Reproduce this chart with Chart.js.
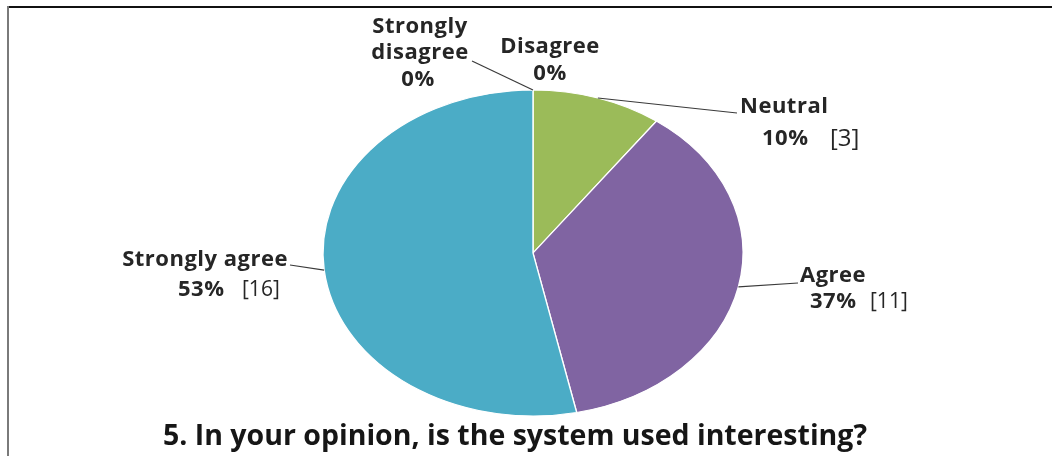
<!DOCTYPE html>
<html>
<head>
<meta charset="utf-8">
<script src="https://cdn.jsdelivr.net/npm/chart.js@4/dist/chart.umd.min.js"></script>
<style>
  html, body { margin: 0; padding: 0; background: #fff; }
  #wrap { position: relative; width: 1052px; height: 456px; overflow: hidden; }
  #frameTop { position: absolute; left: 7px; top: 6px; width: 1045px; height: 2px; background: #111; }
  #frameLeft { position: absolute; left: 7px; top: 6px; width: 2px; height: 450px; background: #7a7a7a; }
  canvas { position: absolute; left: 0; top: 0; }
</style>
</head>
<body>
<div id="wrap">
  <canvas id="myChart" width="1052" height="456"></canvas>
  <div id="frameTop"></div>
  <div id="frameLeft"></div>
</div>
<script>
// Réponses à la question 5
const categories = ["Strongly disagree", "Disagree", "Neutral", "Agree", "Strongly agree"];
const reponses = [0, 0, 3, 11, 16];
const couleurs = ["#4F81BD", "#C0504D", "#9BBB59", "#8064A2", "#4BACC6"];
const titre = "5. In your opinion, is the system used interesting?";

// Ellipse du camembert (centre et rayons)
const centre = { x: 533, y: 253 };
const rayonX = 210;
const rayonY = 163;

// Placement des étiquettes pour chaque part
const etiquettes = [
    { lignes: [["Strongly", 420, 27, "center"], ["disagree", 420, 53, "center"]], pct: [418, 80, "center"], nb: null, trait: [472, 61] },
    { lignes: [["Disagree", 550, 47, "center"]], pct: [550, 74, "center"], nb: null, trait: null },
    { lignes: [["Neutral", 740, 107, "left"]], pct: [762, 139, "left"], nb: [830, 139, 24], trait: [737, 113] },
    { lignes: [["Agree", 800, 276, "left"]], pct: [810, 302, "left"], nb: [870, 302, 21], trait: [798, 283] },
    { lignes: [["Strongly agree", 288, 260, "right"]], pct: [178, 290, "left"], nb: [242, 290, 21], trait: [290, 265] }
];

const total = reponses.reduce((a, b) => a + b, 0);

// Point sur le bord de l'ellipse pour un angle donné (angle Chart.js)
function pointEllipse(angle) {
    return { x: centre.x + Math.cos(angle) * rayonX, y: centre.y + Math.sin(angle) * rayonY };
}

// Plugin qui aplatit le disque en ellipse
const ellipsePlugin = {
    id: 'ellipse',
    beforeDatasetsDraw(chart) {
        const arc = chart.getDatasetMeta(0).data[0];
        const ctx = chart.ctx;
        ctx.save();
        ctx.translate(centre.x, centre.y);
        ctx.scale(rayonX / arc.outerRadius, rayonY / arc.outerRadius);
        ctx.translate(-arc.x, -arc.y);
    },
    afterDatasetsDraw(chart) {
        chart.ctx.restore();
    }
};

// Plugin pour les étiquettes, traits de rappel et titre
const etiquettesPlugin = {
    id: 'etiquettes',
    afterDraw(chart) {
        const ctx = chart.ctx;
        const arcs = chart.getDatasetMeta(0).data;
        ctx.save();
        ctx.textBaseline = 'middle';
        etiquettes.forEach((e, i) => {
            const arc = arcs[i];
            const milieu = (arc.startAngle + arc.endAngle) / 2;
            const p = pointEllipse(milieu);
            if (e.trait) {
                ctx.strokeStyle = '#3a3a3a';
                ctx.lineWidth = 1.2;
                ctx.beginPath();
                ctx.moveTo(p.x, p.y);
                ctx.lineTo(e.trait[0], e.trait[1]);
                ctx.stroke();
            }
            ctx.fillStyle = '#262626';
            ctx.font = 'bold 22px "Open Sans"';
            ctx.letterSpacing = '0.5px';
            e.lignes.forEach(l => {
                ctx.textAlign = l[3];
                ctx.fillText(l[0], l[1], l[2]);
            });
            const pourcent = Math.round(reponses[i] / total * 100) + '%';
            ctx.textAlign = e.pct[2];
            ctx.fillText(pourcent, e.pct[0], e.pct[1]);
            if (e.nb) {
                ctx.font = e.nb[2] + 'px "Open Sans"';
                ctx.letterSpacing = '0px';
                ctx.textAlign = 'left';
                ctx.fillStyle = '#262626';
                ctx.fillText('[' + reponses[i] + ']', e.nb[0], e.nb[1]);
            }
        });
        ctx.letterSpacing = '0px';
        ctx.fillStyle = '#161616';
        ctx.font = 'bold 28.5px "Open Sans"';
        ctx.textAlign = 'center';
        ctx.fillText(titre, 515, 437);
        ctx.restore();
    }
};

const ctx = document.getElementById('myChart').getContext('2d');
const myChart = new Chart(ctx, {
    type: 'pie',
    data: {
        labels: categories,
        datasets: [{
            data: reponses,
            backgroundColor: couleurs,
            borderColor: '#ffffff',
            borderWidth: 1.5
        }]
    },
    options: {
        responsive: false,
        animation: false,
        plugins: {
            legend: { display: false },
            tooltip: { enabled: false }
        }
    },
    plugins: [ellipsePlugin, etiquettesPlugin]
});
</script>
</body>
</html>
